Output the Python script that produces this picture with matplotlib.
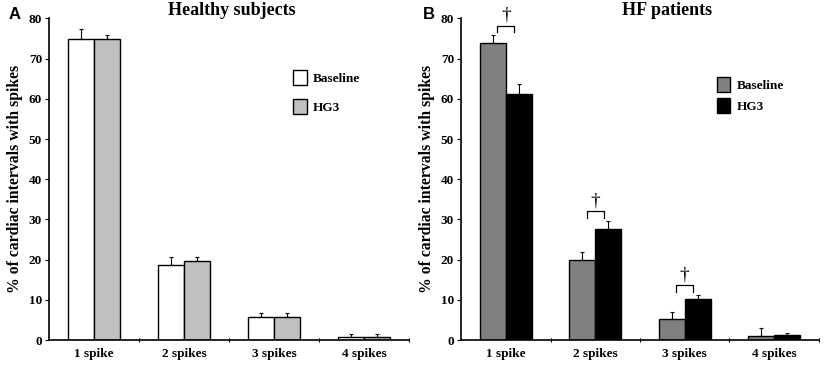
import matplotlib
matplotlib.use("Agg")
import matplotlib.pyplot as plt
import numpy as np

categories = ["1 spike", "2 spikes", "3 spikes", "4 spikes"]
series_names = ["Baseline", "HG3"]

healthy_baseline = [75.0, 18.7, 5.8, 0.7]
healthy_baseline_err = [2.3, 1.9, 0.8, 0.7]
healthy_hg3 = [74.8, 19.6, 5.8, 0.7]
healthy_hg3_err = [1.1, 1.0, 0.8, 0.7]

hf_baseline = [74.0, 19.9, 5.2, 1.1]
hf_baseline_err = [1.9, 1.9, 1.8, 1.8]
hf_hg3 = [61.1, 27.7, 10.2, 1.3]
hf_hg3_err = [2.6, 2.0, 1.1, 0.5]

sig_categories = [0, 1, 2]  # categories with dagger in HF panel
yticks = [0, 10, 20, 30, 40, 50, 60, 70, 80]

serif = ["Liberation Serif", "DejaVu Serif"]

fig = plt.figure(figsize=(8.25, 3.66), dpi=100)
axA = fig.add_axes([0.0594, 0.071, 0.4364, 0.8785])
axB = fig.add_axes([0.5588, 0.071, 0.4339, 0.8785])

W = 0.29

def panel(ax, base, base_err, hg, hg_err, colors, title, title_x, legend_pos, spacing):
    x = np.arange(len(categories)) + 0.5
    b1 = ax.bar(x - W / 2, base, W, color=colors[0], edgecolor="black", linewidth=1.0, zorder=2)
    b2 = ax.bar(x + W / 2, hg, W, color=colors[1], edgecolor="black", linewidth=1.0, zorder=2)
    ax.errorbar(x - W / 2, base, yerr=[np.zeros(4), base_err], fmt="none",
                ecolor="black", elinewidth=0.8, capsize=1.5, capthick=0.8, zorder=3)
    ax.errorbar(x + W / 2, hg, yerr=[np.zeros(4), hg_err], fmt="none",
                ecolor="black", elinewidth=0.8, capsize=1.5, capthick=0.8, zorder=3)
    ax.set_xlim(0, 4)
    ax.set_ylim(0, 80)
    ax.set_yticks(yticks)
    ax.set_yticklabels([str(v) for v in yticks], fontfamily=serif, fontweight="bold", fontsize=9.5)
    ax.set_xticks([1, 2, 3, 4])
    ax.set_xticklabels([])
    ax.set_xticks(x, minor=True)
    ax.set_xticklabels(categories, minor=True, fontfamily=serif, fontweight="bold", fontsize=9.5)
    ax.tick_params(axis="x", which="minor", length=0, pad=6)
    ax.tick_params(axis="x", which="major", length=2.5, width=0.8, direction="inout")
    ax.tick_params(axis="y", length=3, width=0.8, pad=2)
    for s in ["top", "right"]:
        ax.spines[s].set_visible(False)
    for s in ["left", "bottom"]:
        ax.spines[s].set_linewidth(1.2)
    ax.set_ylabel("% of cardiac intervals with spikes", fontfamily=serif,
                  fontweight="bold", fontsize=11.3, labelpad=4)
    fig.text(title_x, 0.970, title, ha="center", va="center", fontfamily=serif,
             fontweight="bold", fontsize=13)
    ax.legend([b1, b2], series_names, loc="upper left", bbox_to_anchor=legend_pos,
              frameon=False, prop={"family": serif, "weight": "bold", "size": 9.5},
              handlelength=1.0, handleheight=1.4, handletextpad=0.5, labelspacing=spacing,
              borderaxespad=0.3)

panel(axA, healthy_baseline, healthy_baseline_err, healthy_hg3, healthy_hg3_err,
      ["white", "#c0c0c0"], "Healthy subjects", 0.281, (0.653, 0.868), 1.0)
panel(axB, hf_baseline, hf_baseline_err, hf_hg3, hf_hg3_err,
      ["#808080", "black"], "HF patients", 0.808, (0.690, 0.848), 0.45)

# significance brackets in HF panel
for i in sig_categories:
    cx = i + 0.5
    top = max(hf_baseline[i] + hf_baseline_err[i], hf_hg3[i] + hf_hg3_err[i])
    y0 = top + 0.7
    y1 = y0 + 1.6
    xl, xr = cx - 0.095, cx + 0.095
    axB.plot([xl, xl, xr, xr], [y0, y1, y1, y0], color="black", lw=0.9, clip_on=False)
    axB.text(cx, y1 + 2.6, "\u2020", ha="center", va="center", fontfamily=serif,
             fontweight="normal", fontsize=14, clip_on=False)

fig.text(0.011, 0.982, "A", ha="left", va="top", fontweight="bold", fontsize=12,
         fontfamily=["Liberation Sans", "DejaVu Sans"])
fig.text(0.513, 0.982, "B", ha="left", va="top", fontweight="bold", fontsize=12,
         fontfamily=["Liberation Sans", "DejaVu Sans"])

fig.savefig("out.png", dpi=100)
